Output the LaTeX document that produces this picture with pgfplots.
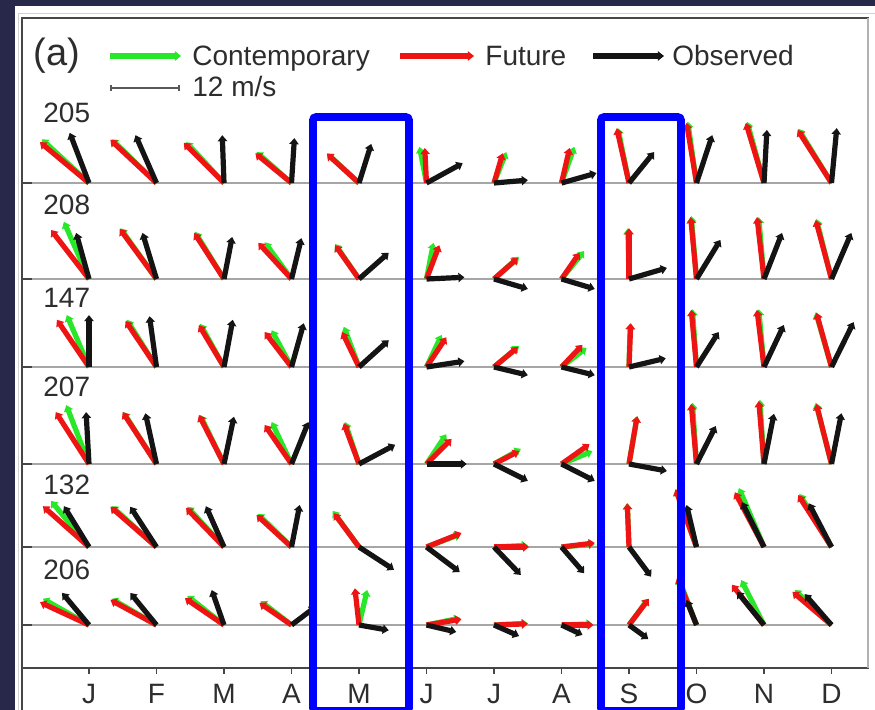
\documentclass[border=0pt]{standalone}
\usepackage{fontspec}
\setmainfont{Liberation Sans}
\usepackage{pgfplots}
\pgfplotsset{compat=1.18}
\usepackage{pgfplotstable}
\usetikzlibrary{arrows.meta}

\definecolor{navy}{RGB}{40,40,75}
\definecolor{contemp}{RGB}{40,230,40}
\definecolor{future}{RGB}{238,20,20}
\definecolor{observed}{RGB}{20,20,20}
\definecolor{framecol}{RGB}{70,70,70}
\definecolor{txt}{RGB}{45,45,45}
\definecolor{boxblue}{RGB}{0,0,255}

% Monthly mean wind vectors (u, v in m/s) at six stations.
% m = month (1 = Jan), y = vertical position of the station's baseline.
% Stations: 205 -> 527, 208 -> 431, 147 -> 343, 207 -> 246, 132 -> 163, 206 -> 85
\pgfplotstableread{
m y u v
1 527 -8.1 7.5
2 527 -7.7 7.5
3 527 -6.5 7.0
4 527 -6.0 5.3
5 527 -5.5 5.1
6 527 -1.2 6.2
7 527 2.1 5.3
8 527 2.2 6.2
9 527 -1.9 9.4
10 527 -1.5 10.5
11 527 -2.9 10.5
12 527 -5.7 9.3
1 431 -4.3 9.8
2 431 -6.2 8.7
3 431 -5.0 8.1
4 431 -4.6 6.3
5 431 -4.1 6.0
6 431 1.2 6.2
7 431 4.3 3.8
8 431 3.9 4.8
9 431 -0.2 8.7
10 431 -0.9 10.8
11 431 -0.9 10.6
12 431 -2.6 10.3
1 343 -3.8 8.9
2 343 -5.1 8.1
3 343 -4.1 7.4
4 343 -3.4 6.3
5 343 -2.6 6.9
6 343 2.6 5.5
7 343 4.3 3.6
8 343 4.3 3.3
9 343 0.2 7.5
10 343 -0.7 9.9
11 343 -0.9 9.9
12 343 -2.7 9.4
1 246 -3.9 10.1
2 246 -5.7 8.9
3 246 -4.1 8.4
4 246 -3.4 7.2
5 246 -2.4 7.2
6 246 3.4 5.1
7 246 4.6 2.6
8 246 5.3 2.2
9 246 1.4 8.2
10 246 -0.7 10.5
11 246 -0.7 11.0
12 246 -2.7 10.5
1 163 -6.5 7.9
2 163 -7.7 7.0
3 163 -6.3 6.9
4 163 -5.8 5.7
5 163 -4.5 6.2
6 163 5.8 2.2
7 163 5.8 0.3
8 163 5.7 0.5
9 163 -0.3 7.5
10 163 -3.4 9.9
11 163 -4.3 10.1
12 163 -5.5 9.1
1 85 -7.9 4.5
2 85 -7.7 4.5
3 85 -6.3 5.0
4 85 -5.3 4.1
5 85 1.4 6.0
6 85 5.8 1.2
7 85 5.8 0.3
8 85 5.3 0.2
9 85 3.3 4.5
10 85 -3.1 8.1
11 85 -3.9 7.7
12 85 -6.3 6.0
}\tabContemp

\pgfplotstableread{
m y u v
1 527 -8.4 7.0
2 527 -7.9 7.4
3 527 -6.9 6.9
4 527 -6.2 5.1
5 527 -5.5 5.0
6 527 -0.3 6.0
7 527 1.5 5.1
8 527 1.4 6.0
9 527 -2.1 9.4
10 527 -1.7 10.3
11 527 -3.1 10.3
12 527 -5.8 9.1
1 431 -6.5 8.4
2 431 -6.3 8.6
3 431 -5.1 7.9
4 431 -5.7 6.2
5 431 -4.1 5.8
6 431 2.2 5.8
7 431 4.1 3.6
8 431 3.1 4.5
9 431 0.0 8.7
10 431 -1.0 10.6
11 431 -1.2 10.6
12 431 -2.7 10.1
1 343 -5.5 8.1
2 343 -5.3 7.9
3 343 -4.3 7.2
4 343 -4.6 6.0
5 343 -2.9 6.0
6 343 3.4 5.1
7 343 4.1 3.4
8 343 3.6 3.8
9 343 0.3 7.5
10 343 -0.9 9.8
11 343 -1.2 9.8
12 343 -2.6 9.3
1 246 -5.7 8.9
2 246 -5.8 8.9
3 246 -4.3 8.4
4 246 -4.6 6.7
5 246 -2.6 7.0
6 246 4.3 4.3
7 246 4.3 2.2
8 246 4.8 3.4
9 246 1.4 8.2
10 246 -0.9 10.3
11 246 -0.9 10.8
12 246 -2.6 10.3
1 163 -7.9 7.0
2 163 -7.9 6.9
3 163 -6.5 6.7
4 163 -6.0 5.5
5 163 -4.3 5.8
6 163 6.0 2.4
7 163 6.0 0.0
8 163 5.7 0.7
9 163 -0.3 7.5
10 163 -3.6 9.9
11 163 -5.0 9.4
12 163 -5.7 8.9
1 85 -8.4 3.9
2 85 -7.9 4.3
3 85 -6.7 4.6
4 85 -5.5 3.8
5 85 -0.7 6.3
6 85 6.0 1.0
7 85 5.8 0.2
8 85 5.5 0.0
9 85 3.4 4.5
10 85 -3.3 8.2
11 85 -5.5 6.9
12 85 -6.7 5.7
}\tabFuture

\pgfplotstableread{
m y u v
1 527 -3.3 8.6
2 527 -3.6 8.2
3 527 -0.3 8.2
4 527 0.5 7.7
5 527 2.1 6.7
6 527 6.2 3.4
7 527 5.8 0.5
8 527 6.0 1.7
9 527 4.3 5.3
10 527 2.7 8.2
11 527 0.5 9.1
12 527 0.9 9.4
1 431 -2.2 7.9
2 431 -2.4 7.9
3 431 1.4 7.2
4 431 1.7 7.0
5 431 5.1 4.5
6 431 6.5 0.3
7 431 5.8 -1.7
8 431 5.7 -1.7
9 431 6.5 1.9
10 431 4.1 6.7
11 431 3.1 7.9
12 431 3.4 7.9
1 343 0.0 8.9
2 343 -1.2 8.7
3 343 1.5 8.1
4 343 2.1 7.5
5 343 5.1 4.6
6 343 6.5 1.0
7 343 5.8 -1.4
8 343 5.7 -1.4
9 343 6.3 1.5
10 343 3.8 6.0
11 343 3.4 7.2
12 343 3.8 7.7
1 246 -0.5 8.9
2 246 -1.9 8.7
3 246 1.7 8.1
4 246 2.9 7.2
5 246 6.2 3.3
6 246 6.9 0.0
7 246 5.8 -2.9
8 246 5.7 -2.9
9 246 6.5 -1.2
10 246 3.3 6.5
11 246 1.7 8.6
12 246 1.7 8.7
1 163 -4.3 7.0
2 163 -4.5 6.9
3 163 -3.1 7.0
4 163 1.4 7.2
5 163 6.0 -3.9
6 163 5.7 -4.3
7 163 4.6 -4.8
8 163 3.9 -4.5
9 163 3.8 -5.1
10 163 -1.7 7.2
11 163 -3.8 7.7
12 163 -3.9 7.5
1 85 -4.6 5.5
2 85 -4.5 5.5
3 85 -2.1 6.0
4 85 4.1 3.1
5 85 5.1 -0.9
6 85 5.1 -1.2
7 85 4.3 -1.9
8 85 3.6 -1.7
9 85 3.3 -2.4
10 85 -1.7 4.3
11 85 -4.6 5.7
12 85 -4.6 5.3
}\tabObserved

% 1 m/s = 5.8333 baseline units; one month spans 67.5 baseline units
\newcommand{\uscale}{0.086420}
\newcommand{\vscale}{5.8333}

\begin{document}
\begin{tikzpicture}
\path[use as bounding box] (0,0) rectangle (437.5bp,-355bp);
\clip (0,0) rectangle (437.5bp,-355bp);

% page background and white panel (units: 0.5bp, y downwards)
\begin{scope}[x=0.5bp,y=-0.5bp]
  \fill[navy] (0,0) rectangle (875,710);
  \fill[white] (15,6) rectangle (875,710);
  \draw[black!18, line width=0.5bp] (19,710) -- (19,14) -- (875,14);
\end{scope}

\begin{axis}[
  at={(11bp,-334bp)}, anchor=south west,
  x=33.75bp, y=0.5bp,
  xmin=0.0074, xmax=12.541, ymin=42, ymax=692,
  axis line style={draw=framecol, line width=1bp},
  xtick={1,...,12},
  xticklabels={J,F,M,A,M,J,J,A,S,O,N,D},
  xtick pos=bottom,
  tick align=outside,
  major tick length=3bp,
  xtick style={draw=framecol, line width=0.7bp},
  ytick=\empty,
  x tick label style={font=\fontsize{14bp}{16bp}\selectfont, text=txt, yshift=-1.5bp},
  clip=false,
  every axis plot/.append style={line width=2.6bp, line cap=butt,
    -{Triangle[length=3bp,width=4.6bp]}},
]
  % station baselines and their ticks
  \pgfplotsinvokeforeach{527,431,343,246,163,85}{
    \draw[black!35, line width=0.8bp] (axis cs:0.0074,#1) -- (axis cs:12,#1);
    \draw[framecol, line width=0.8bp] (axis cs:0.0074,#1) -- (axis cs:0.155,#1);
  }
  % contemporary (model), future (model), observed
  \addplot[contemp, quiver={u={\thisrow{u}*\uscale}, v={\thisrow{v}*\vscale}}]
    table[x=m, y=y] {\tabContemp};
  \addplot[future, quiver={u={\thisrow{u}*\uscale}, v={\thisrow{v}*\vscale}}]
    table[x=m, y=y] {\tabFuture};
  \addplot[observed, quiver={u={\thisrow{u}*\uscale}, v={\thisrow{v}*\vscale}}]
    table[x=m, y=y] {\tabObserved};
\end{axis}

\begin{scope}[x=0.5bp,y=-0.5bp, every node/.style={inner sep=0pt, text=txt}]
  % frame details
  \draw[black!30, line width=1bp] (868,18) -- (868,668);
  \draw[framecol, line width=1bp] (22,668) -- (22,712);

  % legend
  \node[anchor=base west, font=\fontsize{19bp}{22bp}\selectfont] at (33,65) {(a)};
  \draw[contemp, line width=2.6bp, -{Triangle[length=3bp,width=4.6bp]}] (110,56) -- (181,56);
  \node[anchor=base west, font=\fontsize{14bp}{16bp}\selectfont] at (192,65) {Contemporary};
  \draw[future, line width=2.6bp, -{Triangle[length=3bp,width=4.6bp]}] (400,56) -- (474,56);
  \node[anchor=base west, font=\fontsize{14bp}{16bp}\selectfont] at (485,65) {Future};
  \draw[observed, line width=2.6bp, -{Triangle[length=3bp,width=4.6bp]}] (593,56) -- (664,56);
  \node[anchor=base west, font=\fontsize{14bp}{16bp}\selectfont] at (672,65) {Observed};
  \draw[black!65, line width=0.8bp, {Bar[width=3bp]}-{Bar[width=3bp]}] (110,88) -- (180,88);
  \node[anchor=base west, font=\fontsize{14bp}{16bp}\selectfont] at (192,97) {12 m/s};

  % station numbers
  \foreach \lab/\yy in {205/123, 208/215, 147/308, 207/397, 132/495, 206/580}{
    \node[anchor=base west, font=\fontsize{14bp}{16bp}\selectfont] at (43,\yy) {\lab};
  }

  % highlighted months
  \draw[boxblue, line width=3.8bp, rounded corners=1.5bp] (313,711) -- (313,117) -- (409,117) -- (409,711) -- cycle;
  \draw[boxblue, line width=3.8bp, rounded corners=1.5bp] (601,711) -- (601,117) -- (681,117) -- (681,711) -- cycle;
\end{scope}
\end{tikzpicture}
\end{document}
